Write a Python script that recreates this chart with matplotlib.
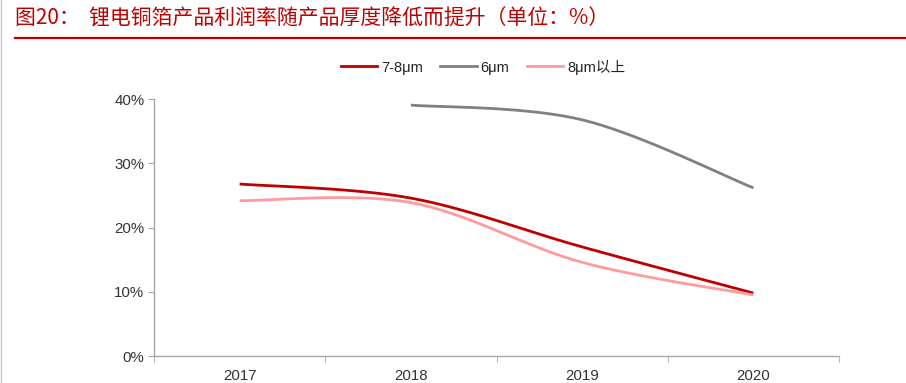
"""
Copper foil margin vs thickness, redrawn as smoothed line chart.
"""
import numpy as np
import matplotlib
matplotlib.use("Agg")
import matplotlib.pyplot as plt
from matplotlib.lines import Line2D

plt.rcParams['font.family'] = ['Liberation Sans', 'Noto Sans CJK SC', 'DejaVu Sans']

years = ["2017", "2018", "2019", "2020"]
series_names = ["7-8μm", "6μm", "8μm以上"]
foil_7_8 = [26.8, 24.6, 17.0, 9.8]
foil_6 = [None, 39.1, 36.8, 26.2]
foil_8_plus = [24.2, 23.9, 14.6, 9.5]
colors = ["#C00000", "#808080", "#FF9B9F"]
title = "图20：  锂电铜箔产品利润率随产品厚度降低而提升（单位：%）"


def smooth(xs, ys, n=40):
    """Catmull-Rom style bezier smoothing, like Excel's smoothed lines."""
    pts = np.array([xs, ys], dtype=float).T
    out = []
    for i in range(len(pts) - 1):
        p0 = pts[i - 1] if i > 0 else pts[i]
        p1, p2 = pts[i], pts[i + 1]
        p3 = pts[i + 2] if i + 2 < len(pts) else pts[i + 1]
        c1 = p1 + (p2 - p0) / 6.0
        c2 = p2 - (p3 - p1) / 6.0
        t = np.linspace(0, 1, n)[:, None]
        seg = ((1 - t) ** 3) * p1 + 3 * ((1 - t) ** 2) * t * c1 \
            + 3 * (1 - t) * t ** 2 * c2 + t ** 3 * p2
        out.append(seg if i == 0 else seg[1:])
    seg = np.vstack(out)
    return seg[:, 0], seg[:, 1]


fig = plt.figure(figsize=(9.06, 3.83), dpi=100)
ax = fig.add_axes([154 / 906, 1 - 356 / 383, (839 - 154) / 906, (356 - 99.3) / 383])

for name, vals, c in zip(series_names, [foil_7_8, foil_6, foil_8_plus], colors):
    xs = [i for i, v in enumerate(vals) if v is not None]
    ys = [v / 100 for v in vals if v is not None]
    sx, sy = smooth(xs, ys)
    ax.plot(sx, sy, color=c, lw=2.0, solid_capstyle="butt", label=name)

ax.set_xlim(-0.5, len(years) - 0.5)
ax.set_ylim(0, 0.4)
ax.set_yticks([0, 0.1, 0.2, 0.3, 0.4])
ax.set_yticklabels([f"{int(round(v * 100))}%" for v in ax.get_yticks()], fontsize=10.8, color="#333333")
ax.set_xticks(range(len(years)))
ax.set_xticklabels(years, fontsize=10.8, color="#333333")
ax.set_xticks(np.arange(-0.5, len(years)), minor=True)
ax.tick_params(axis="x", which="major", length=0, pad=9)
ax.tick_params(axis="x", which="minor", length=4, color="#A6A6A6", direction="out")
ax.tick_params(axis="y", length=4, color="#A6A6A6", direction="out", pad=3)

for side in ["top", "right"]:
    ax.spines[side].set_visible(False)
for side in ["left", "bottom"]:
    ax.spines[side].set_color("#A6A6A6")
    ax.spines[side].set_linewidth(1.0)

handles = [Line2D([], [], color=c, lw=2.0) for c in colors]
fig.legend(handles, series_names, loc="center", bbox_to_anchor=(483 / 906, 1 - 67 / 383),
           ncol=3, frameon=False, fontsize=10.5, handlelength=2.5, handletextpad=0.25,
           columnspacing=1.2, labelcolor="#222222")

fig.text(15 / 906, 1 - 19 / 383, title, fontsize=15, color="#C00000", va="center",
         ha="left", family=["Noto Sans CJK SC"])
fig.add_artist(Line2D([15 / 906, 1.0], [1 - 38 / 383] * 2, color="#C00000", lw=1.6))
fig.add_artist(Line2D([1 / 906, 1 / 906], [0, 1], color="#C8C8C8", lw=1))

fig.savefig("out.png", dpi=100)
